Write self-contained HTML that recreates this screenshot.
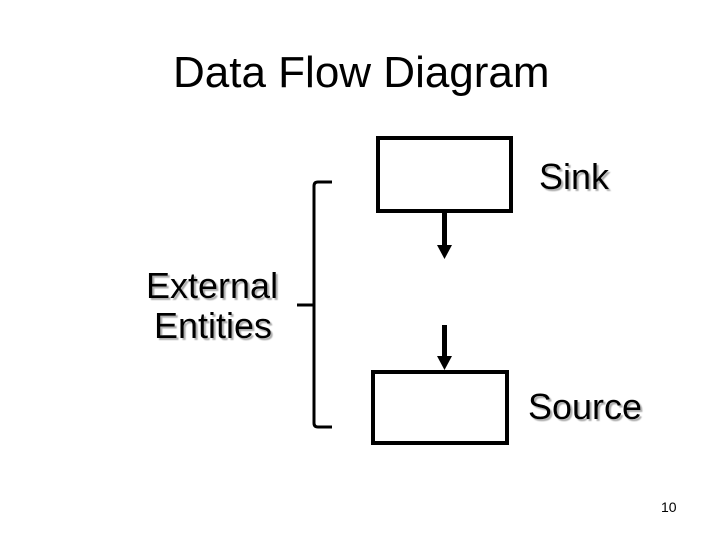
<!DOCTYPE html>
<html><head><meta charset="utf-8"><style>
html,body{margin:0;padding:0;background:#fff;}
</style></head><body>
<svg width="720" height="540" viewBox="0 0 720 540" xmlns="http://www.w3.org/2000/svg">
<defs><filter id="sh"><feDropShadow dx="2" dy="2" stdDeviation="0.6" flood-color="#999" flood-opacity="0.8"/></filter></defs>
<rect width="720" height="540" fill="#fff"/>
<g font-family="Liberation Sans, Arial, sans-serif" fill="#000">
<text x="173" y="87" font-size="44">Data Flow Diagram</text>
<g filter="url(#sh)" font-size="36">
<text x="539" y="189">Sink</text>
<text x="146" y="298">External</text>
<text x="154" y="338">Entities</text>
<text x="528" y="419">Source</text>
</g>
<text x="661" y="512" font-size="14">10</text>
</g>
<g fill="none" stroke="#000" stroke-width="4">
<rect x="378" y="138" width="133" height="73"/>
<rect x="373" y="372" width="134" height="71"/>
<path d="M332 182 L318 182 Q314 182 314 186 L314 423 Q314 427 318 427 L332 427" stroke-width="3"/>
<path d="M297 305 L314 305" stroke-width="3"/>
</g>
<g fill="#000">
<rect x="442" y="213" width="5" height="33"/>
<polygon points="437,245 452,245 444.5,259"/>
<rect x="442" y="325" width="5" height="32"/>
<polygon points="437,356 452,356 444.5,370"/>
</g>
</svg>
</body></html>
